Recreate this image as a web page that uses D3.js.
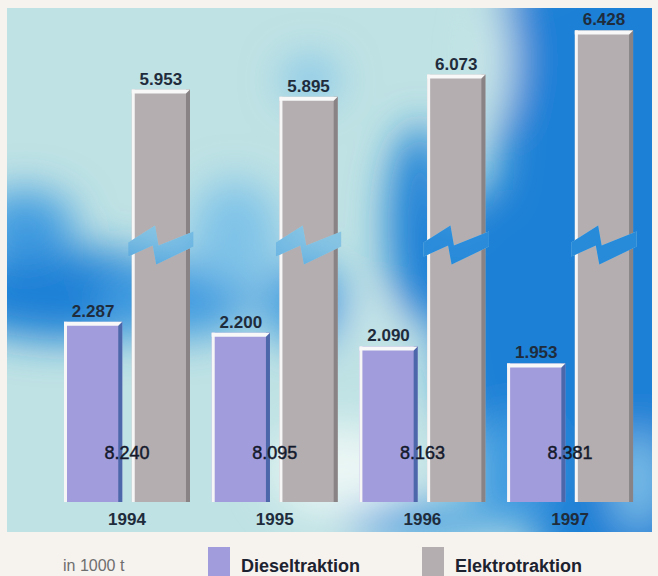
<!DOCTYPE html>
<html>
<head>
<meta charset="utf-8">
<script src="https://cdn.jsdelivr.net/npm/d3@7"></script>
<style>
  html, body { margin: 0; padding: 0; background: #f6f2ee; }
  svg { display: block; font-family: "Liberation Sans", Arial, Helvetica, sans-serif; }
</style>
</head>
<body>
<svg id="chart" width="658" height="576"></svg>
<script>
// Transported freight volume (in 1000 t) by traction type
const years = ["1994", "1995", "1996", "1997"];
const diesel = [2287, 2200, 2090, 1953];
const elektro = [5953, 5895, 6073, 6428];
const seriesNames = ["Dieseltraktion", "Elektrotraktion"];
const unitLabel = "in 1000 t";
// Broken value axis: the stretch between 2900 and 4700 is cut out
const axisDomain = [840, 2900, 4700, 6600];

const W = 658, H = 576;
const panel = { x: 7, y: 8, w: 645, h: 524 };
const baseY = 502;
const pxPerUnit = 0.1245;

const colors = {
  diesel: "#a19cdc", dieselShade: "#4d68aa",
  elektro: "#b4aeb0", elektroShade: "#898385",
  label: "#1f2c3c", total: "#141a2c", legendText: "#1d2230", unit: "#6e6e6e"
};

const de = d3.formatLocale({ decimal: ",", thousands: ".", grouping: [3], currency: ["", " €"] });
const fmt = de.format(",d");

const yBreak = baseY - pxPerUnit * (axisDomain[1] - axisDomain[0]);
const y = d3.scaleLinear()
  .domain(axisDomain)
  .range([baseY, yBreak, yBreak, yBreak - pxPerUnit * (axisDomain[3] - axisDomain[2])]);

const x0 = d3.scaleBand().domain(years).range([53.15, 643.95]).paddingInner(0.147).paddingOuter(0.0735);
const x1 = d3.scaleBand().domain(seriesNames).range([0, x0.bandwidth()]).paddingInner(0.14);

const svg = d3.select("#chart");
const defs = svg.append("defs");

defs.append("filter").attr("id", "soft")
  .attr("filterUnits", "userSpaceOnUse")
  .attr("x", -200).attr("y", -200).attr("width", 1100).attr("height", 1000)
  .append("feGaussianBlur").attr("stdDeviation", 20);

defs.append("clipPath").attr("id", "panelClip")
  .append("rect").attr("x", panel.x).attr("y", panel.y).attr("width", panel.w).attr("height", panel.h);

// ---- sky background ----
const deep = "#1f80d6", mid = "#3f9be0", light = "#7fc3e8", pale = "#cfeaea", white = "#eaf6f4";
const clouds = [
  { cx: 620, cy: 270, rx: 130, ry: 360, c: deep },
  { cx: 545, cy: 40, rx: 55, ry: 70, c: deep },
  { cx: 420, cy: 225, rx: 32, ry: 100, c: deep },
  { cx: 485, cy: 320, rx: 45, ry: 130, c: deep },
  { cx: 70, cy: 295, rx: 130, ry: 45, c: deep },
  { cx: 25, cy: 225, rx: 50, ry: 35, c: mid },
  { cx: 175, cy: 300, rx: 80, ry: 38, c: mid },
  { cx: 305, cy: 305, rx: 42, ry: 42, c: mid },
  { cx: 310, cy: 80, rx: 28, ry: 22, c: light },
  { cx: 420, cy: 522, rx: 75, ry: 18, c: mid },
  { cx: 235, cy: 235, rx: 45, ry: 55, c: light },
  { cx: 510, cy: 470, rx: 42, ry: 60, c: mid },
  { cx: 340, cy: 470, rx: 70, ry: 45, c: white },
  { cx: 370, cy: 322, rx: 25, ry: 16, c: pale },
  { cx: 495, cy: 60, rx: 16, ry: 60, c: pale },
  { cx: 638, cy: 480, rx: 24, ry: 50, c: light }
];

const bg = svg.append("g").attr("id", "sky").attr("clip-path", "url(#panelClip)");
bg.append("rect").attr("x", panel.x).attr("y", panel.y).attr("width", panel.w).attr("height", panel.h)
  .attr("fill", "#bfe2e4");
bg.append("g").attr("filter", "url(#soft)")
  .selectAll("ellipse").data(clouds).join("ellipse")
  .attr("cx", d => d.cx).attr("cy", d => d.cy).attr("rx", d => d.rx).attr("ry", d => d.ry)
  .attr("fill", d => d.c);

// ---- bars ----
const rows = years.map((yr, i) => ({ year: yr, diesel: diesel[i], elektro: elektro[i], i }));

function drawBar(g, x, w, v, fill, shade) {
  const top = y(v);
  const h = baseY - top;
  g.append("rect").attr("x", x).attr("y", top).attr("width", w).attr("height", h).attr("fill", fill);
  g.append("rect").attr("x", x + w - 4).attr("y", top).attr("width", 4).attr("height", h).attr("fill", shade);
  g.append("rect").attr("x", x).attr("y", top).attr("width", 3).attr("height", h).attr("fill", "#f6f6f6");
  g.append("path")
    .attr("d", `M${x},${top}L${x + w},${top}L${x + w - 4},${top + 4}L${x},${top + 4}Z`)
    .attr("fill", "#f8f8f8");
}

const groups = svg.append("g").selectAll("g").data(rows).join("g")
  .attr("transform", d => `translate(${x0(d.year)},0)`);

groups.each(function (d) {
  const g = d3.select(this);
  drawBar(g, x1("Dieseltraktion"), x1.bandwidth(), d.diesel, colors.diesel, colors.dieselShade);
  drawBar(g, x1("Elektrotraktion"), x1.bandwidth(), d.elektro, colors.elektro, colors.elektroShade);
});

// ---- axis breaks (lightning cut through the electric bars) ----
const boltShape = [[-0.06, -3], [0.40, -20], [0.46, 0], [1.06, -14], [1.06, 1], [0.42, 19], [0.36, 0], [-0.06, 11]];
rows.forEach(d => {
  const bx = x0(d.year) + x1("Elektrotraktion");
  const bw = x1.bandwidth();
  const pts = boltShape.map(([u, v]) => [bx + u * bw, yBreak + v]);
  const id = "bolt" + d.i;
  defs.append("clipPath").attr("id", id).append("polygon").attr("points", pts.join(" "));
  svg.append("use").attr("href", "#sky").attr("clip-path", `url(#${id})`);
  svg.append("polygon").attr("points", pts.join(" ")).attr("fill", "#3a9be0").attr("opacity", 0.4);
});

// ---- value labels ----
const labels = svg.append("g").attr("font-weight", "bold").attr("font-size", 17)
  .attr("fill", colors.label).attr("text-anchor", "middle");
rows.forEach(d => {
  const gx = x0(d.year);
  labels.append("text").attr("x", gx + x1("Dieseltraktion") + x1.bandwidth() / 2)
    .attr("y", y(d.diesel) - 5).text(fmt(d.diesel));
  labels.append("text").attr("x", gx + x1("Elektrotraktion") + x1.bandwidth() / 2)
    .attr("y", y(d.elektro) - 5).text(fmt(d.elektro));
});

// totals per year
svg.append("g").attr("text-anchor", "middle").attr("font-size", 18).attr("fill", colors.total)
  .attr("stroke", colors.total).attr("stroke-width", 0.45)
  .selectAll("text").data(rows).join("text")
  .attr("x", d => x0(d.year) + x0.bandwidth() / 2).attr("y", 459)
  .text(d => fmt(d.diesel + d.elektro));

// year axis labels
svg.append("g").attr("text-anchor", "middle").attr("font-size", 17).attr("font-weight", "bold")
  .attr("fill", colors.label)
  .selectAll("text").data(years).join("text")
  .attr("x", d => x0(d) + x0.bandwidth() / 2).attr("y", 524.5).text(d => d);

// ---- legend ----
const legend = svg.append("g");
legend.append("text").attr("x", 63).attr("y", 571).attr("font-size", 16).attr("fill", colors.unit)
  .text(unitLabel);
const legendItems = [
  { name: seriesNames[0], color: colors.diesel, x: 208 },
  { name: seriesNames[1], color: colors.elektro, x: 422 }
];
legendItems.forEach(it => {
  legend.append("rect").attr("x", it.x).attr("y", 547).attr("width", 22).attr("height", 30).attr("fill", it.color);
  legend.append("text").attr("x", it.x + 33).attr("y", 572).attr("font-size", 18).attr("font-weight", "bold")
    .attr("fill", colors.legendText).text(it.name);
});
</script>
</body>
</html>
